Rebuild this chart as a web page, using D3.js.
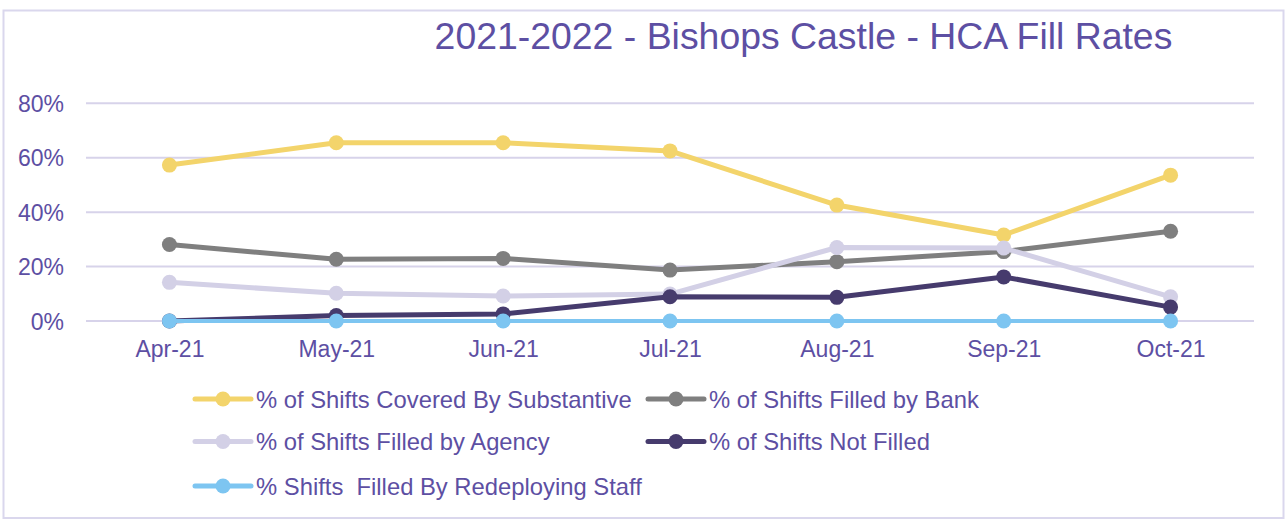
<!DOCTYPE html>
<html>
<head>
<meta charset="utf-8">
<script src="https://cdn.jsdelivr.net/npm/d3@7"></script>
<style>
  html, body { margin: 0; padding: 0; background: #ffffff; }
  svg { display: block; font-family: "Liberation Sans", Arial, sans-serif; }
</style>
</head>
<body>
<svg id="chart" width="1287" height="519"></svg>
<script>
// Months on the x axis
const months = ["Apr-21", "May-21", "Jun-21", "Jul-21", "Aug-21", "Sep-21", "Oct-21"];

// Share of shifts per month (percent)
const substantive = [57.3, 65.5, 65.5, 62.5, 42.6, 31.6, 53.6];
const bank        = [28.1, 22.7, 23.0, 18.7, 21.8, 25.5, 33.0];
const agency      = [14.2, 10.2, 9.2, 9.9, 27.0, 26.8, 8.9];
const notFilled   = [0.0, 2.0, 2.6, 8.9, 8.7, 16.2, 5.1];
const redeploying = [0, 0, 0, 0, 0, 0, 0];

const seriesNames = [
  "% of Shifts Covered By Substantive",
  "% of Shifts Filled by Bank",
  "% of Shifts Filled by Agency",
  "% of Shifts Not Filled",
  "% Shifts  Filled By Redeploying Staff"
];
const seriesValues = [substantive, bank, agency, notFilled, redeploying];
const seriesColors = ["#F3D46B", "#7F7F7F", "#D3D0E6", "#463B6D", "#7DC5F1"];

const yTicks = [0, 20, 40, 60, 80];
const titleText = "2021-2022 - Bishops Castle - HCA Fill Rates";

const textColor = "#5D4FA3";
const gridColor = "#D7D3EA";

const svg = d3.select("#chart");

// outer frame
svg.append("rect")
  .attr("x", 3.5).attr("y", 10.5)
  .attr("width", 1280).attr("height", 507.5)
  .attr("fill", "none")
  .attr("stroke", "#DAD7ED")
  .attr("stroke-width", 2);

// title
svg.append("text")
  .attr("x", 803.5).attr("y", 49)
  .attr("text-anchor", "middle")
  .attr("fill", textColor)
  .attr("font-size", 37.4)
  .text(titleText);

const x = d3.scalePoint().domain(months).range([86, 1254]).padding(0.5);
const y = d3.scaleLinear().domain([0, 80]).range([321, 103.3]);

// gridlines
svg.append("g")
  .selectAll("line")
  .data(yTicks)
  .join("line")
  .attr("x1", 86).attr("x2", 1254)
  .attr("y1", d => y(d)).attr("y2", d => y(d))
  .attr("stroke", gridColor)
  .attr("stroke-width", 2);

// y axis labels
const yAxis = d3.axisLeft(y).tickValues(yTicks).tickSize(0).tickPadding(0)
  .tickFormat(d => d + "%");
const gy = svg.append("g").attr("transform", "translate(64,0)").call(yAxis);
gy.select(".domain").remove();
gy.selectAll("text")
  .attr("fill", textColor)
  .attr("font-size", 23)
  .attr("font-family", "Liberation Sans, Arial, sans-serif")
  .attr("dy", "0.35em");

// x axis labels
const xAxis = d3.axisBottom(x).tickSize(0).tickPadding(0);
const gx = svg.append("g").attr("transform", "translate(0,340)").call(xAxis);
gx.select(".domain").remove();
gx.selectAll("text")
  .attr("fill", textColor)
  .attr("font-size", 23)
  .attr("font-family", "Liberation Sans, Arial, sans-serif")
  .attr("dy", "0.75em");

// lines and markers
const line = d3.line()
  .x((d, i) => x(months[i]))
  .y(d => y(d));

seriesValues.forEach((vals, s) => {
  const g = svg.append("g");
  g.append("path")
    .datum(vals)
    .attr("d", line)
    .attr("fill", "none")
    .attr("stroke", seriesColors[s])
    .attr("stroke-width", s === 4 ? 4 : 5)
    .attr("stroke-linejoin", "round")
    .attr("stroke-linecap", "round");
  g.selectAll("circle")
    .data(vals)
    .join("circle")
    .attr("cx", (d, i) => x(months[i]))
    .attr("cy", d => y(d))
    .attr("r", 7.5)
    .attr("fill", seriesColors[s]);
});

// legend
const legendPos = [
  { sx: 195, row: 0 },
  { sx: 648, row: 0 },
  { sx: 195, row: 1 },
  { sx: 648, row: 1 },
  { sx: 195, row: 2 }
];
const rowY = [399, 441.5, 486];
seriesNames.forEach((name, s) => {
  const p = legendPos[s];
  const cy = rowY[p.row];
  const g = svg.append("g");
  g.append("line")
    .attr("x1", p.sx).attr("x2", p.sx + 56)
    .attr("y1", cy).attr("y2", cy)
    .attr("stroke", seriesColors[s])
    .attr("stroke-width", 5)
    .attr("stroke-linecap", "round");
  g.append("circle")
    .attr("cx", p.sx + 28).attr("cy", cy).attr("r", 7.5)
    .attr("fill", seriesColors[s]);
  g.append("text")
    .attr("x", p.sx + 61).attr("y", cy)
    .attr("dy", "0.36em")
    .attr("fill", textColor)
    .attr("font-size", 23.8)
    .style("white-space", "pre")
    .text(name);
});
</script>
</body>
</html>
